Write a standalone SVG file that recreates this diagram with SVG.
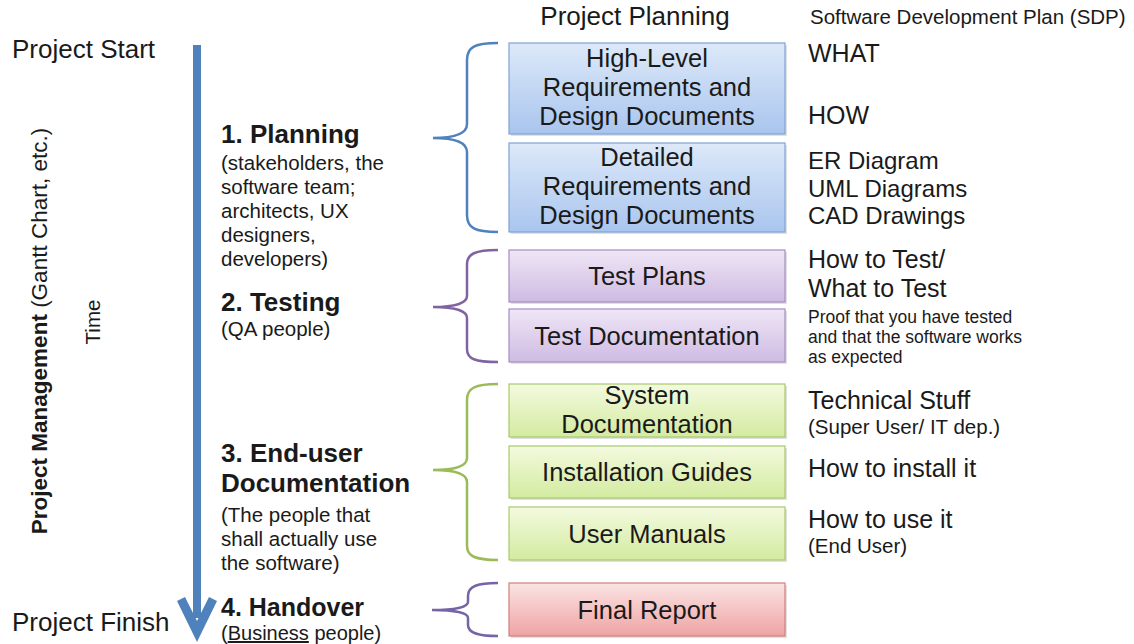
<svg xmlns="http://www.w3.org/2000/svg" width="1134" height="644" viewBox="0 0 1134 644">
<defs>
<linearGradient id="gBlue" x1="0" y1="0" x2="0" y2="1"><stop offset="0" stop-color="#dde9f9"/><stop offset="1" stop-color="#a9c5ee"/></linearGradient>
<linearGradient id="gPurple" x1="0" y1="0" x2="0" y2="1"><stop offset="0" stop-color="#efe6f6"/><stop offset="1" stop-color="#cfbbe3"/></linearGradient>
<linearGradient id="gGreen" x1="0" y1="0" x2="0" y2="1"><stop offset="0" stop-color="#f3fadf"/><stop offset="1" stop-color="#d3eba0"/></linearGradient>
<linearGradient id="gRed" x1="0" y1="0" x2="0" y2="1"><stop offset="0" stop-color="#fbe4e4"/><stop offset="1" stop-color="#efa3a3"/></linearGradient>
</defs>
<style>
text{font-family:"Liberation Sans",Arial,sans-serif;fill:#1a1a1a}
.box{font-size:25.5px;text-anchor:middle}
.lbl{font-size:25px}
.b{font-weight:bold;font-size:26px}
.s{font-size:20.5px}
.xs{font-size:17.5px}
.brace{fill:none;stroke-width:2.5}
.shadow{fill:#000;opacity:0.12}
</style>
<rect width="1134" height="644" fill="#fff"/>

<g id="timeline">
<line x1="197" y1="45" x2="197" y2="618" stroke="#4f81bd" stroke-width="8"/>
<path d="M177,601 L197,642 L217,601 L209,597 L197,621 L185,597 Z" fill="#4f81bd"/>
<text x="12" y="58" style="font-size:26px">Project Start</text>
<text x="12" y="631" style="font-size:26px">Project Finish</text>
<text transform="translate(47,331) rotate(-90)" text-anchor="middle" style="font-size:22.5px"><tspan font-weight="bold">Project Management</tspan> (Gantt Chart, etc.)</text>
<text transform="translate(100,322) rotate(-90)" text-anchor="middle" style="font-size:20.5px">Time</text>
</g>

<g id="headers">
<text x="635" y="25" text-anchor="middle" style="font-size:26px">Project Planning</text>
<text x="810" y="24" style="font-size:20.5px">Software Development Plan (SDP)</text>
</g>

<g id="phase1">
<text x="221" y="143" class="b">1. Planning</text>
<text x="221" y="170" class="s">(stakeholders, the</text>
<text x="221" y="194" class="s">software team;</text>
<text x="221" y="218" class="s">architects, UX</text>
<text x="221" y="242" class="s">designers,</text>
<text x="221" y="266" class="s">developers)</text>
</g>
<g id="phase2">
<text x="221" y="311" class="b">2. Testing</text>
<text x="221" y="336" class="s">(QA people)</text>
</g>
<g id="phase3">
<text x="221" y="462" class="b">3. End-user</text>
<text x="221" y="492" class="b">Documentation</text>
<text x="221" y="522" class="s">(The people that</text>
<text x="221" y="546" class="s">shall actually use</text>
<text x="221" y="570" class="s">the software)</text>
</g>
<g id="phase4">
<text x="221" y="616" class="b" style="font-size:25px">4. Handover</text>
<text x="221" y="640" class="s" style="font-size:20px">(<tspan text-decoration="underline">Business</tspan> people)</text>
</g>

<g id="braces">
<path class="brace" stroke="#4f81bd" d="M498,43 C475,43 467,47 467,60 L467,124 C467,133 455,138 433,138 C455,138 467,143 467,152 L467,215 C467,228 475,232 498,232"/>
<path class="brace" stroke="#8064a2" d="M498,250 C475,250 467,254 467,264 L467,296 C467,303 455,307 433,307 C455,307 467,311 467,318 L467,349 C467,359 475,362 498,362"/>
<path class="brace" stroke="#9bbb59" d="M498,384 C475,384 467,388 467,400 L467,458 C467,466 455,470 433,470 C455,470 467,474 467,482 L467,546 C467,556 475,560 498,560"/>
<path class="brace" stroke="#7565a6" d="M498,583 C478,583 468,586 468,596 L468,602 C468,607 455,610 432,610 C455,610 468,613 468,618 L468,625 C468,633 478,636 498,636"/>
</g>

<g id="box1">
<rect x="511" y="45" width="276" height="91" class="shadow"/>
<rect x="509" y="43" width="276" height="91" fill="url(#gBlue)" stroke="#7ea3d6" stroke-width="1.2"/>
<text x="647" y="67" class="box">High-Level</text>
<text x="647" y="96" class="box">Requirements and</text>
<text x="647" y="125" class="box">Design Documents</text>
</g>
<g id="box2">
<rect x="511" y="145" width="276" height="89" class="shadow"/>
<rect x="509" y="143" width="276" height="89" fill="url(#gBlue)" stroke="#7ea3d6" stroke-width="1.2"/>
<text x="647" y="166" class="box">Detailed</text>
<text x="647" y="195" class="box">Requirements and</text>
<text x="647" y="224" class="box">Design Documents</text>
</g>
<g id="box3">
<rect x="511" y="252" width="276" height="52" class="shadow"/>
<rect x="509" y="250" width="276" height="52" fill="url(#gPurple)" stroke="#a78cc2" stroke-width="1.2"/>
<text x="647" y="285" class="box">Test Plans</text>
</g>
<g id="box4">
<rect x="511" y="311" width="276" height="53" class="shadow"/>
<rect x="509" y="309" width="276" height="53" fill="url(#gPurple)" stroke="#a78cc2" stroke-width="1.2"/>
<text x="647" y="345" class="box">Test Documentation</text>
</g>
<g id="box5">
<rect x="511" y="386" width="276" height="53" class="shadow"/>
<rect x="509" y="384" width="276" height="53" fill="url(#gGreen)" stroke="#a9c86d" stroke-width="1.2"/>
<text x="647" y="404" class="box">System</text>
<text x="647" y="433" class="box">Documentation</text>
</g>
<g id="box6">
<rect x="511" y="448" width="276" height="52" class="shadow"/>
<rect x="509" y="446" width="276" height="52" fill="url(#gGreen)" stroke="#a9c86d" stroke-width="1.2"/>
<text x="647" y="481" class="box">Installation Guides</text>
</g>
<g id="box7">
<rect x="511" y="509" width="276" height="53" class="shadow"/>
<rect x="509" y="507" width="276" height="53" fill="url(#gGreen)" stroke="#a9c86d" stroke-width="1.2"/>
<text x="647" y="543" class="box">User Manuals</text>
</g>
<g id="box8">
<rect x="511" y="585" width="276" height="53" class="shadow"/>
<rect x="509" y="583" width="276" height="53" fill="url(#gRed)" stroke="#d27d7d" stroke-width="1.2"/>
<text x="647" y="619" class="box">Final Report</text>
</g>

<g id="notes">
<text x="808" y="62" class="lbl">WHAT</text>
<text x="808" y="124" class="lbl">HOW</text>
<text x="808" y="169" class="lbl" style="font-size:24px">ER Diagram</text>
<text x="808" y="196.5" class="lbl" style="font-size:24px">UML Diagrams</text>
<text x="808" y="224" class="lbl" style="font-size:24px">CAD Drawings</text>
<text x="808" y="268" class="lbl">How to Test/</text>
<text x="808" y="297" class="lbl">What to Test</text>
<text x="808" y="323" class="xs">Proof that you have tested</text>
<text x="808" y="343" class="xs">and that the software works</text>
<text x="808" y="363" class="xs">as expected</text>
<text x="808" y="409" class="lbl">Technical Stuff</text>
<text x="808" y="434" class="s">(Super User/ IT dep.)</text>
<text x="808" y="477" class="lbl">How to install it</text>
<text x="808" y="528" class="lbl">How to use it</text>
<text x="808" y="553" class="s">(End User)</text>
</g>
</svg>
